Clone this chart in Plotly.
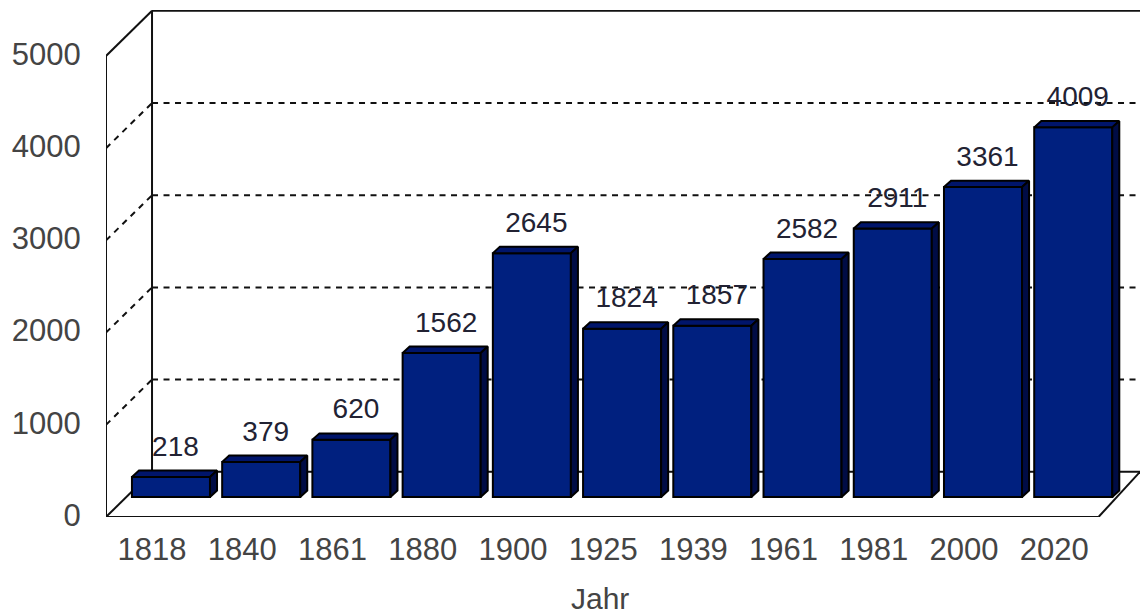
import plotly.graph_objects as go

years = ["1818", "1840", "1861", "1880", "1900", "1925", "1939", "1961", "1981", "2000", "2020"]
population = [218, 379, 620, 1562, 2645, 1824, 1857, 2582, 2911, 3361, 4009]
grid_values = [1000, 2000, 3000, 4000]
y_ticks = [0, 1000, 2000, 3000, 4000, 5000]

FONT = "Liberation Sans, Arial, sans-serif"
X_RANGE = [-0.51, 10.95]
Y_RANGE = [0, 5499]
WALL_DX, WALL_DY = 0.51, 490
BAR_SHIFT, BAR_WIDTH, BAR_BASE = 0.21, 0.865, 217
FACE_DX, FACE_DY = 0.078, 70
LABEL_DX, LABEL_DY = 0.05, 308

xl, xr, ymax = -0.51, 10.49, 5000
xs = [i + BAR_SHIFT for i in range(len(years))]
half = BAR_WIDTH / 2


def line(x0, y0, x1, y1, dash="solid", width=2, color="#111111"):
    return dict(type="line", xref="x", yref="y", x0=x0, y0=y0, x1=x1, y1=y1,
                layer="below", line=dict(color=color, width=width, dash=dash))


shapes = [
    line(xl, 0, xl, ymax),
    line(xl, ymax, xl + WALL_DX, ymax + WALL_DY),
    line(xl + WALL_DX, ymax + WALL_DY, X_RANGE[1], ymax + WALL_DY),
    line(xl + WALL_DX, WALL_DY, xl + WALL_DX, ymax + WALL_DY),
    line(xl, 0, xr, 0),
    line(xl, 0, xl + WALL_DX, WALL_DY),
    line(xr, 0, X_RANGE[1], WALL_DY),
    line(xl + WALL_DX, WALL_DY, X_RANGE[1], WALL_DY),
]
for g in grid_values:
    shapes.append(line(xl, g, xl + WALL_DX, g + WALL_DY, dash="6px,5.5px"))
    shapes.append(line(xl + WALL_DX, g + WALL_DY, X_RANGE[1], g + WALL_DY, dash="6px,5.5px"))

fig = go.Figure()
fig.add_trace(go.Bar(
    x=xs, y=population, base=BAR_BASE, width=BAR_WIDTH,
    marker=dict(color="#00207f", line=dict(color="#000000", width=2)),
    hoverinfo="skip", showlegend=False,
))

top_x, top_y, side_x, side_y = [], [], [], []
for x, v in zip(xs, population):
    t = BAR_BASE + v
    top_x += [x - half, x - half + FACE_DX, x + half + FACE_DX, x + half, x - half, None]
    top_y += [t, t + FACE_DY, t + FACE_DY, t, t, None]
    side_x += [x + half, x + half + FACE_DX, x + half + FACE_DX, x + half, x + half, None]
    side_y += [t, t + FACE_DY, BAR_BASE + FACE_DY, BAR_BASE, t, None]

for fx, fy, col in [(top_x, top_y, "#00156b"), (side_x, side_y, "#000c45")]:
    fig.add_trace(go.Scatter(
        x=fx, y=fy, mode="lines", fill="toself", fillcolor=col,
        line=dict(color="#000000", width=2), hoverinfo="skip", showlegend=False,
    ))

fig.add_trace(go.Scatter(
    x=[x + LABEL_DX for x in xs],
    y=[BAR_BASE + v + LABEL_DY for v in population],
    text=[str(v) for v in population], mode="text", textposition="middle center",
    textfont=dict(family=FONT, size=28, color="#222233"),
    hoverinfo="skip", showlegend=False,
))

fig.update_layout(
    width=1140, height=614, margin=dict(l=106, r=0, t=10, b=97),
    paper_bgcolor="#ffffff", plot_bgcolor="#ffffff", showlegend=False, shapes=shapes,
    font=dict(family=FONT, color="#444444"),
    xaxis=dict(
        range=X_RANGE, tickmode="array", tickvals=list(range(len(years))), ticktext=years,
        showgrid=False, zeroline=False, showline=False,
        ticks="outside", ticklen=5, tickcolor="rgba(0,0,0,0)",
        tickfont=dict(family=FONT, size=31, color="#444444"),
    ),
    yaxis=dict(
        range=Y_RANGE, tickmode="array", tickvals=y_ticks,
        showgrid=False, zeroline=False, showline=False,
        ticks="outside", ticklen=18, tickcolor="rgba(0,0,0,0)",
        ticklabelshift=-2,
        tickfont=dict(family=FONT, size=31, color="#444444"),
    ),
    annotations=[dict(
        text="Jahr", x=4.97, xref="x", y=0, yref="paper", yshift=-81, showarrow=False,
        xanchor="center", yanchor="middle",
        font=dict(family=FONT, size=30, color="#444444"),
    )],
)

fig.write_html("out.html", config={"displayModeBar": False},
               post_script="document.body.style.margin='0';")
